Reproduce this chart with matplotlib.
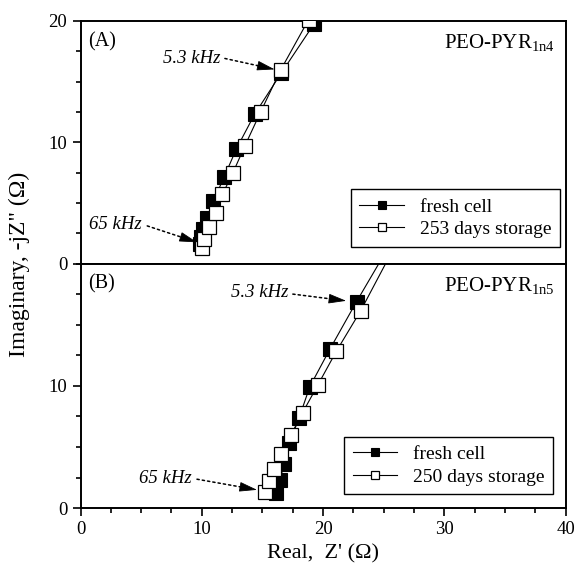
import matplotlib
matplotlib.use('Agg')
import matplotlib.pyplot as plt
from matplotlib.ticker import MultipleLocator

plt.rcParams['font.family'] = ['Liberation Serif', 'DejaVu Serif']
plt.rcParams['mathtext.fontset'] = 'custom'
plt.rcParams['mathtext.rm'] = 'Liberation Serif'
plt.rcParams['mathtext.it'] = 'Liberation Serif:italic'

# Panel A: PEO-PYR1n4, Nyquist points (Z' real, -Z'' imaginary), ohm
a_fresh_re = [9.85, 9.95, 10.1, 10.45, 10.95, 11.85, 12.85, 14.35, 16.55, 19.25, 21.6]
a_fresh_im = [1.6, 2.2, 2.85, 3.75, 5.15, 7.15, 9.45, 12.3, 15.7, 19.75, 23.4]
a_aged_re = [10.0, 10.17, 10.6, 11.15, 11.7, 12.55, 13.55, 14.85, 16.5, 18.8, 21.2]
a_aged_im = [1.25, 2.05, 3.0, 4.2, 5.7, 7.45, 9.7, 12.5, 15.95, 20.1, 23.8]

# Panel B: PEO-PYR1n5
b_fresh_re = [16.1, 16.43, 16.79, 17.2, 18.0, 18.9, 20.55, 22.75, 25.6]
b_fresh_im = [1.25, 2.29, 3.65, 5.29, 7.34, 9.93, 12.99, 16.88, 21.7]
b_aged_re = [15.2, 15.55, 15.95, 16.55, 17.35, 18.3, 19.55, 21.1, 23.1, 25.9]
b_aged_im = [1.35, 2.2, 3.2, 4.45, 6.0, 7.8, 10.05, 12.85, 16.15, 21.4]

panels = [
    {'tag': '(A)', 'name': r'PEO-PYR$_{\mathregular{1n4}}$', 'aged_label': '253 days storage',
     'fresh': (a_fresh_re, a_fresh_im), 'aged': (a_aged_re, a_aged_im),
     'ann_hi': ((16.0, 16.0), (11.9, 16.9), (11.5, 16.9)),
     'ann_lo': ((9.6, 1.75), (5.5, 3.1), (5.05, 3.25)),
     'leg_anchor': (1.0, 0.045)},
    {'tag': '(B)', 'name': r'PEO-PYR$_{\mathregular{1n5}}$', 'aged_label': '250 days storage',
     'fresh': (b_fresh_re, b_fresh_im), 'aged': (b_aged_re, b_aged_im),
     'ann_hi': ((21.9, 16.95), (17.5, 17.5), (17.1, 17.6)),
     'ann_lo': ((14.55, 1.5), (9.6, 2.37), (9.15, 2.45)),
     'leg_anchor': (0.986, 0.033)},
]


def dotted_arrow(ax, tip, start):
    # dotted shaft, then a solid filled head sitting on the tip
    ax.annotate('', xy=tip, xytext=start,
                arrowprops=dict(arrowstyle='-', color='black', lw=1.1,
                                linestyle=(0, (1.5, 2.0)), shrinkA=0, shrinkB=9))
    dx, dy = tip[0] - start[0], tip[1] - start[1]
    back = (tip[0] - 0.05 * dx, tip[1] - 0.05 * dy)
    ax.annotate('', xy=tip, xytext=back,
                arrowprops=dict(arrowstyle='-|>,head_length=0.8,head_width=0.22',
                                color='black', lw=0.6, mutation_scale=14,
                                shrinkA=0, shrinkB=0))


fig = plt.figure(figsize=(5.75, 5.71), dpi=100)
ax_top = fig.add_axes([0.14, 0.5385, 0.844, 0.425])
ax_bot = fig.add_axes([0.14, 0.110, 0.844, 0.4285])

for ax, p in zip([ax_top, ax_bot], panels):
    ax.plot(*p['fresh'], color='black', lw=0.8, marker='s', ms=9.6,
            mfc='black', mec='black', mew=0.8, label='fresh cell', zorder=3)
    ax.plot(*p['aged'], color='black', lw=0.8, marker='s', ms=9.6,
            mfc='white', mec='black', mew=0.9, label=p['aged_label'], zorder=4)

    ax.set_xlim(0, 40)
    ax.set_ylim(0, 20)
    ax.xaxis.set_major_locator(MultipleLocator(10))
    ax.xaxis.set_minor_locator(MultipleLocator(2.5))
    ax.yaxis.set_major_locator(MultipleLocator(10))
    ax.yaxis.set_minor_locator(MultipleLocator(2.5))
    ax.tick_params(which='both', direction='out', width=1.2, labelsize=13.5,
                   top=False, right=False)
    ax.tick_params(which='major', length=6)
    ax.tick_params(which='minor', length=3.5)
    for s in ax.spines.values():
        s.set_linewidth(1.4)

    ax.text(0.6, 18.3, p['tag'], fontsize=14.5, ha='left', va='center')
    ax.text(39.1, 18.2, p['name'], fontsize=15, ha='right', va='center')

    hi_tip, hi_start, hi_txt = p['ann_hi']
    lo_tip, lo_start, lo_txt = p['ann_lo']
    ax.text(*hi_txt, '5.3 kHz', fontsize=13.5, style='italic', ha='right', va='center')
    ax.text(*lo_txt, '65 kHz', fontsize=13.5, style='italic', ha='right', va='center')
    dotted_arrow(ax, hi_tip, hi_start)
    dotted_arrow(ax, lo_tip, lo_start)

    leg = ax.legend(loc='lower right', bbox_to_anchor=p['leg_anchor'], fontsize=14,
                    frameon=True, fancybox=False, edgecolor='black', framealpha=1,
                    handlelength=2.3, markerscale=0.6, borderpad=0.45,
                    labelspacing=0.25, handletextpad=0.8, borderaxespad=0.3)
    leg.get_frame().set_linewidth(1.0)

ax_top.tick_params(axis='x', which='both', bottom=False, labelbottom=False)
ax_bot.set_yticks([0, 10])
ax_bot.set_xlabel("Real,  Z' (\u03a9)", fontsize=16, labelpad=4)
fig.text(0.033, 0.537, 'Imaginary, -jZ" (\u03a9)', fontsize=17, rotation=90,
         ha='center', va='center')

fig.savefig('out.png', dpi=100)
